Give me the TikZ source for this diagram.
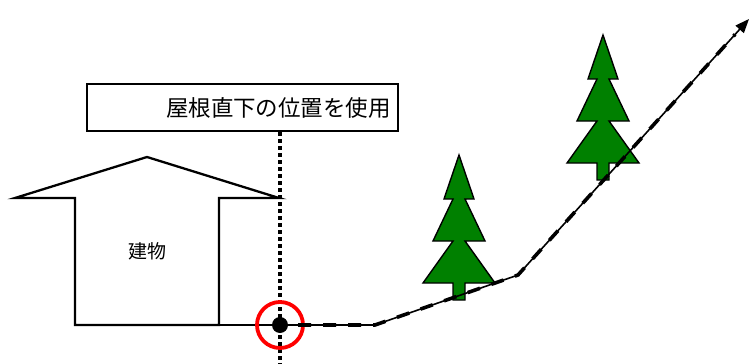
\documentclass[tikz,border=0pt]{standalone}
\usepackage{fontspec}
\newfontfamily\jafont{Noto Sans CJK JP}
\usepackage{tikz}
\usetikzlibrary{arrows.meta,positioning,calc}
\definecolor{firgreen}{RGB}{0,128,0}

\begin{document}
\begin{tikzpicture}[
  x=1pt, y=-1pt,
  outline/.style={draw=black, line width=2.3pt, line join=miter},
  labelbox/.style={draw=black, line width=2.3pt, minimum width=311pt, minimum height=47pt,
    text width=297pt, align=right, inner sep=0pt, font=\jafont\fontsize{22.5}{25}\selectfont},
  plumb/.style={draw=black, line width=3.2pt, dash pattern=on 3.4pt off 3.6pt},
  fir/.style={draw=black, fill=firgreen, line width=1.4pt},
  ground/.style={draw=black, line width=1.6pt},
  slope/.style={draw=black, line width=3.6pt, dash pattern=on 13pt off 12pt},
  ring/.style={circle, draw=red, line width=3.8pt, minimum size=46pt, inner sep=0pt},
  point/.style={circle, fill=black, minimum size=16pt, inner sep=0pt}
]
  \useasboundingbox (0,0) rectangle (753,364);
  % house outline
  \draw[outline] (75,325) -- (75,198) -- (15,198) -- (147,157) -- (279,198) -- (219,198) -- (219,325) -- cycle;
  \node[font=\jafont\fontsize{19}{22}\selectfont] (bldg) at (147,251) {建物};
  % label and plumb line
  \node[labelbox] (lbl) at (242.5,107.5) {屋根直下の位置を使用};
  \coordinate (foot) at (280,364);
  \draw[plumb] (lbl.south -| foot) -- (foot);
  \draw[ground] (219,325) -- (280,325);
  % trees
  \foreach \tx/\ty in {459/155, 603/35} {
    \draw[fir, shift={(\tx,\ty)}] (0,0) -- (15,44) -- (6,44) -- (26,86) -- (6,86) -- (36,128) -- (6,128)
      -- (6,145) -- (-6,145) -- (-6,128) -- (-36,128) -- (-6,86) -- (-26,86) -- (-6,44) -- (-15,44) -- cycle;
  }
  % ground profile
  \node[ring] (mark) at (280,325) {};
  \node[point] (pt) at (280,325) {};
  \coordinate (knee1) at (375,325);
  \coordinate (knee2) at (518,275);
  \coordinate (tip) at (749,19);
  \draw[ground, -{Triangle[length=14pt,width=11pt]}] (pt.center) -- (knee1) -- (knee2) -- (tip);
  \draw[slope] ([xshift=10pt]pt.east) -- (knee1) -- (knee2) -- ($(tip)!0.06!(knee2)$);
\end{tikzpicture}
\end{document}
